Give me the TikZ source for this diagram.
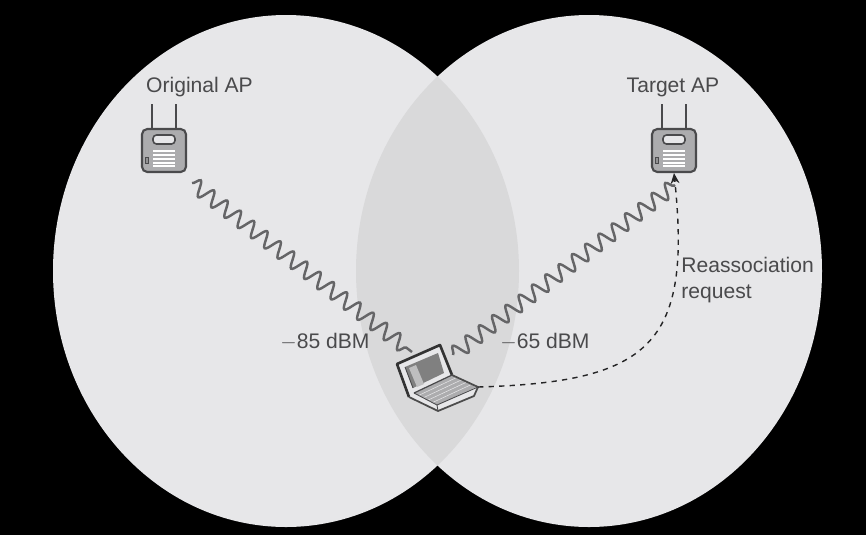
\documentclass[tikz,border=0pt]{standalone}
\usepackage{fontspec}
\setmainfont{Liberation Sans}
\usetikzlibrary{arrows.meta,decorations.pathmorphing}
\definecolor{myLGray}{RGB}{231,231,233}
\definecolor{myMGray}{RGB}{217,217,218}
\definecolor{myDGray}{RGB}{74,74,76}
\definecolor{myAPGray}{RGB}{172,172,174}
\tikzset{
  aptext/.style={text=myDGray, font=\fontsize{12}{14.7}\selectfont, inner sep=0pt},
  apbody/.style={draw=myDGray, line width=1.2pt, fill=myAPGray, rounded corners=3pt, minimum width=0.88cm, minimum height=0.86cm, inner sep=0pt},
  radiolink/.style={draw=myDGray!85, line width=1.4pt, decorate, decoration={snake, segment length=0.335cm, amplitude=0.15cm}},
}
\begin{document}
\begin{tikzpicture}[x=0.02cm, y=-0.02cm]
  \useasboundingbox[fill=black] (0, 0) rectangle (866, 535);
  % Zellen
  \fill[myLGray] (286, 271) ellipse (233 and 256);
  \fill[myLGray] (589, 271) ellipse (233 and 256);
  \begin{scope}
    \clip (286, 271) ellipse (233 and 256);
    \fill[myMGray] (589, 271) ellipse (233 and 256);
  \end{scope}
  % Access Points
  \foreach \apname/\x in {origap/164, targetap/674} {
    \draw[myDGray, line width=0.9pt] (\x-12, 104) -- (\x-12, 130);
    \draw[myDGray, line width=0.9pt] (\x+12, 104) -- (\x+12, 130);
    \node[apbody] (\apname) at (\x, 150.5) {};
    \draw[myDGray, line width=0.9pt, fill=myLGray, rounded corners=2pt] (\x-11, 135) rectangle (\x+11, 144);
    \draw[myDGray, fill=myDGray!60] (\x-18.5, 157) rectangle (\x-15.5, 163);
    \foreach \y in {151, 155, 159, 163, 166} {
      \draw[white, line width=0.6pt] (\x-11, \y) -- (\x+11, \y);
    }
  }
  \node[aptext] (origlabel) at (199.5, 87) {Original AP};
  \node[aptext] (targetlabel) at (673, 87) {Target AP};
  % Laptop
  \fill[myLGray] (397, 364) -- (440, 345) -- (452, 375) -- (478, 387) -- (474, 396) -- (438, 411) -- (409, 397) -- cycle;
  \fill[gray] (405, 367) -- (438, 353) -- (444, 373) -- (413, 388) -- cycle;
  \fill[myLGray!60!gray] (409, 368) -- (416, 365) -- (424, 384) -- (417, 387) -- cycle;
  \fill[myAPGray] (414, 393) -- (452, 375) -- (476, 387) -- (437, 405) -- cycle;
  \foreach \t in {0.2, 0.4, 0.6, 0.8} {
    \draw[myLGray, line width=0.3pt] (414+23*\t, 393+12*\t) -- (452+24*\t, 375+12*\t);
  }
  \draw[black!80, line width=1.5pt, line join=round] (409, 397) -- (397, 364) -- (440, 345) -- (452, 375);
  \draw[black!70, line width=1pt, line join=round] (452, 375) -- (478, 387) -- (474, 396) -- (438, 411) -- (409, 397);
  \draw[myDGray, line width=0.7pt] (414, 393) -- (452, 375);
  \draw[myDGray, line width=0.5pt] (437, 405) -- (478, 387) (437, 405) -- (438, 411) (437, 405) -- (414, 393);
  \draw[myDGray, line width=0.5pt] (405, 367) -- (413, 388);
  \coordinate (laptop) at (478, 387);
  \coordinate (origend) at (192, 183);
  \coordinate (lapleft) at (412, 352);
  \coordinate (lapright) at (453, 355);
  \coordinate (targetend) at (675, 185);
  % Funkstrecken
  \draw[radiolink] (origend) -- (lapleft);
  \draw[radiolink] (lapright) -- (targetend);
  \node[aptext] (origdbm) at (325, 342) {$-$85 dBM};
  \node[aptext] (targetdbm) at (545, 342) {$-$65 dBM};
  % Anfrage
  \draw[myDGray!50!black, line width=0.8pt, dashed, -{Stealth[length=6pt, width=5pt]}] (laptop) .. controls (650, 382) and (692, 345) .. (targetap.south);
  \node[aptext, anchor=west, align=left] (reassoc) at (681, 280) {Reassociation\\request};
\end{tikzpicture}
\end{document}
